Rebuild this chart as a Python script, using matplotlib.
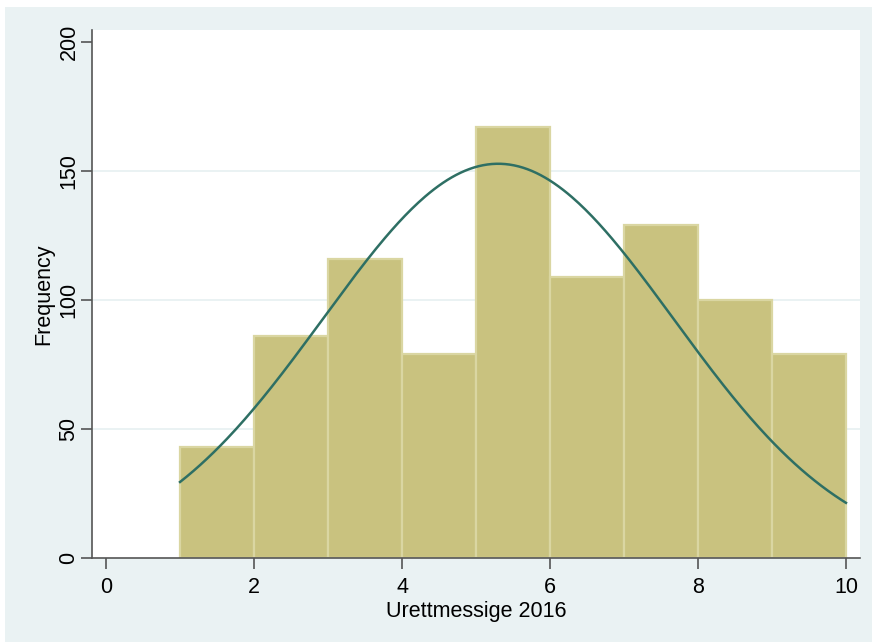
import numpy as np
import matplotlib
matplotlib.use("Agg")
import matplotlib.pyplot as plt
from matplotlib.patches import Rectangle

# histogram bins (width 1) and counts
bin_edges = [1, 2, 3, 4, 5, 6, 7, 8, 9, 10]
counts = [43, 86, 116, 79, 167, 109, 129, 100, 79]

# normal overlay parameters
mean_val = 5.3
sd_val = 2.37

x_ticks = [0, 2, 4, 6, 8, 10]
y_ticks = [0, 50, 100, 150, 200]

plt.rcParams["font.family"] = ["Liberation Sans", "DejaVu Sans"]

fig = plt.figure(figsize=(8.72, 6.42), dpi=100, facecolor="white")
fig.patches.append(Rectangle((5 / 872, 0), 1, 635 / 642, transform=fig.transFigure,
                             facecolor="#EAF2F3", edgecolor="none", zorder=-1))

ax = fig.add_axes([92 / 872, 84 / 642, 768 / 872, 528 / 642])
ax.set_facecolor("white")

left = np.array(bin_edges[:-1])
width = np.diff(bin_edges)
ax.bar(left, counts, width=width, align="edge", color="#C9C27F",
       edgecolor="#DAD6A2", linewidth=1.6, zorder=2)

n_total = sum(counts)
xs = np.linspace(bin_edges[0], bin_edges[-1], 300)
ys = n_total * 1.0 / (sd_val * np.sqrt(2 * np.pi)) * np.exp(-(xs - mean_val) ** 2 / (2 * sd_val ** 2))
ax.plot(xs, ys, color="#2E6F64", linewidth=1.8, zorder=3)

ax.set_xlim(-0.19, 10.19)
ax.set_ylim(0, 204.7)
ax.set_xticks(x_ticks)
ax.set_yticks(y_ticks)
ax.set_yticklabels([str(v) for v in y_ticks], rotation=90, va="center")

for yv in y_ticks[1:-1]:
    ax.axhline(yv, color="#EAF2F3", linewidth=1.4, zorder=1)

for side in ["top", "right"]:
    ax.spines[side].set_visible(False)
for side in ["left", "bottom"]:
    ax.spines[side].set_color("#555555")
    ax.spines[side].set_linewidth(1.2)

ax.tick_params(axis="both", direction="out", length=8, width=1.2, color="#555555",
               labelsize=15.5, labelcolor="black")
ax.tick_params(axis="x", pad=6)
ax.tick_params(axis="y", pad=1)

ax.set_xlabel("Urettmessige 2016", fontsize=15.5, labelpad=2)
ax.set_ylabel("Frequency", fontsize=15.5, labelpad=3)

fig.savefig("out.png", dpi=100, facecolor=fig.get_facecolor())
